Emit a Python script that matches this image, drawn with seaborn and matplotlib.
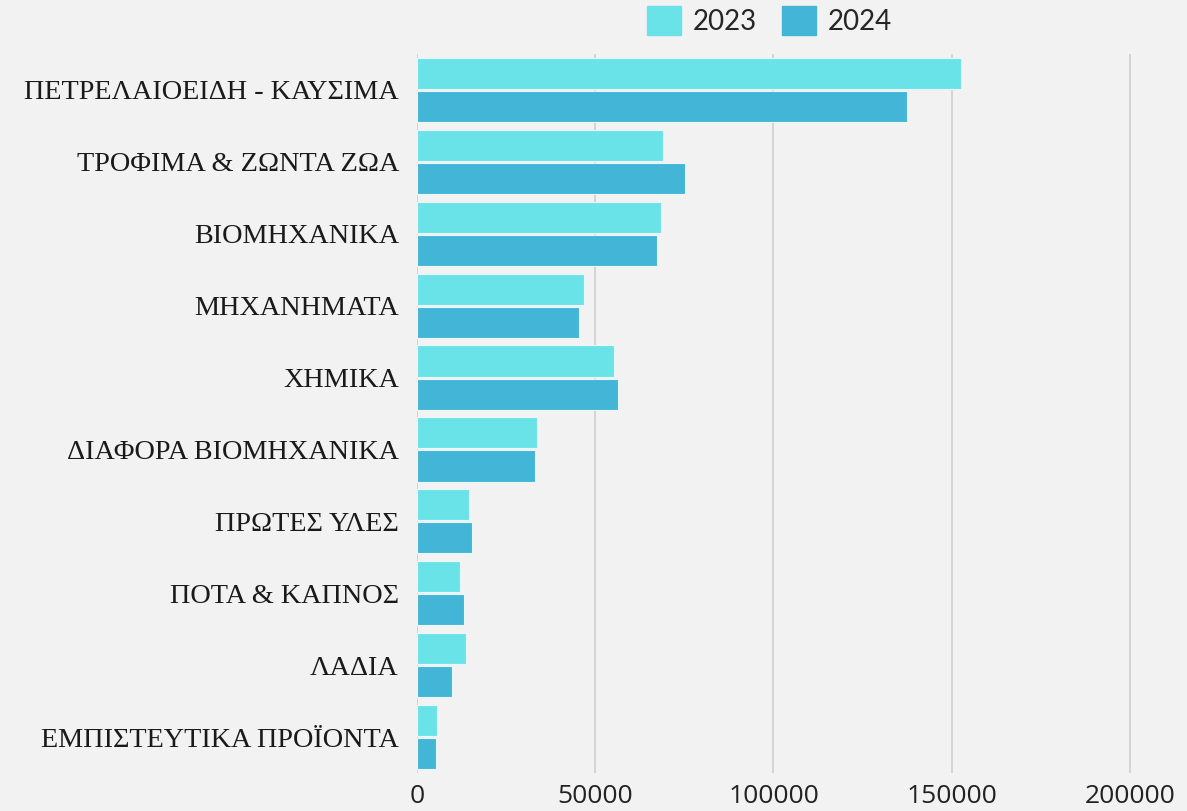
import pandas as pd
import seaborn as sns
import matplotlib.pyplot as plt

# Data
categories = [
    "ΠΕΤΡΕΛΑΙΟΕΙΔΗ - ΚΑΥΣΙΜΑ",
    "ΤΡΟΦΙΜΑ & ΖΩΝΤΑ ΖΩΑ",
    "ΒΙΟΜΗΧΑΝΙΚΑ",
    "ΜΗΧΑΝΗΜΑΤΑ",
    "ΧΗΜΙΚΑ",
    "ΔΙΑΦΟΡΑ ΒΙΟΜΗΧΑΝΙΚΑ",
    "ΠΡΩΤΕΣ ΥΛΕΣ",
    "ΠΟΤΑ & ΚΑΠΝΟΣ",
    "ΛΑΔΙΑ",
    "ΕΜΠΙΣΤΕΥΤΙΚΑ ΠΡΟΪΟΝΤΑ",
]
values_2023 = [152500, 69100, 68500, 46900, 55300, 33700, 14600, 12100, 13800, 5600]
values_2024 = [137400, 75300, 67400, 45500, 56500, 33100, 15400, 13200, 9800, 5300]
years = ["2023", "2024"]
colors = ["#6ae3e8", "#43b5d6"]

df = pd.DataFrame({
    "category": categories * 2,
    "value": values_2023 + values_2024,
    "year": [years[0]] * len(categories) + [years[1]] * len(categories),
})

bg = "#f2f2f2"
sns.set_style("white")
fig = plt.figure(figsize=(11.87, 8.11), dpi=100, facecolor=bg)
ax = fig.add_axes([0.3513, 0.0469, 0.6487, 0.8865])
ax.set_facecolor(bg)

sns.barplot(data=df, y="category", x="value", hue="year", orient="h",
            palette=colors, width=0.92, gap=0.06, ax=ax, legend=False,
            saturation=1, edgecolor="#e9f7fa", linewidth=0.8)

ax.set_xlim(0, 216000)
ax.set_xticks([0, 50000, 100000, 150000, 200000])
ax.set_xticklabels(["0", "50000", "100000", "150000", "200000"],
                   fontsize=19, family="Open Sans", color="#222222")
ax.set_yticks(range(len(categories)))
ax.set_yticklabels(categories, fontsize=20.3, family="Liberation Serif", color="#1a1a1a")
ax.tick_params(axis="both", length=0, pad=8)
ax.tick_params(axis="y", pad=13)
ax.grid(axis="x", color="#cfcfcf", linewidth=1.2)
ax.set_axisbelow(True)
for s in ax.spines.values():
    s.set_visible(False)
ax.set_xlabel("")
ax.set_ylabel("")

handles = [plt.Rectangle((0, 0), 1, 1, color=c) for c in colors]
fig.legend(handles, years, loc="upper center", bbox_to_anchor=(0.648, 1.024),
           ncol=2, frameon=False, prop={"family": "Lato", "size": 20},
           handlelength=1.25, handleheight=1.25, columnspacing=0.9, handletextpad=0.4)

fig.savefig("out.png", dpi=100, facecolor=bg)
